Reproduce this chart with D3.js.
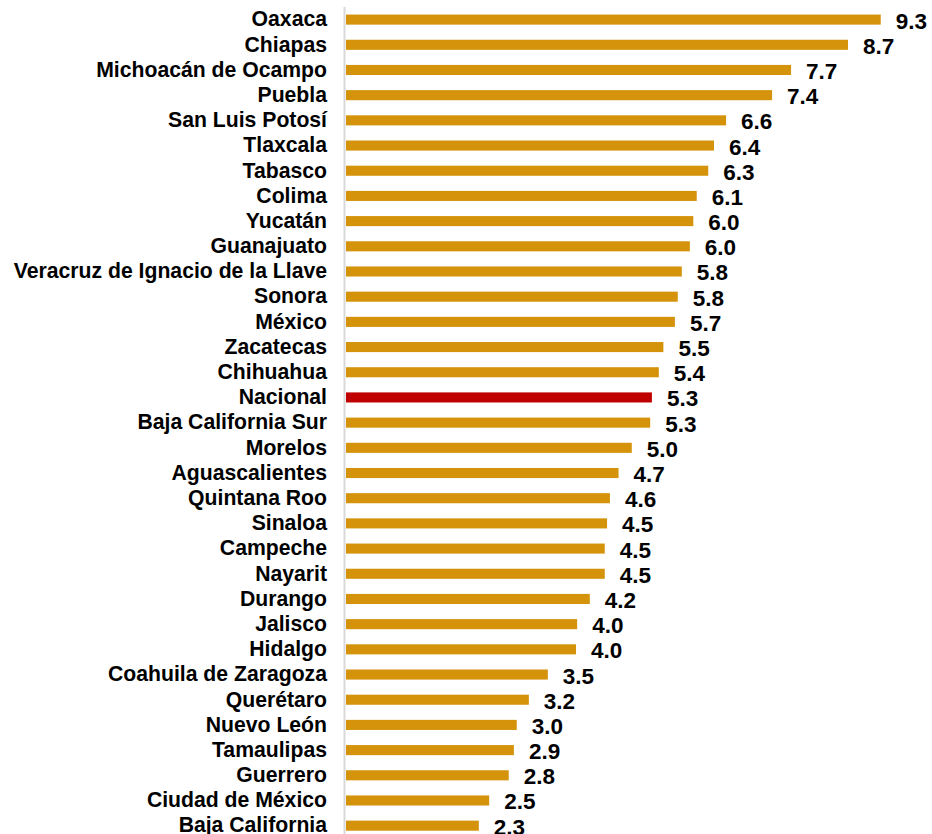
<!DOCTYPE html>
<html>
<head>
<meta charset="utf-8">
<script src="https://cdn.jsdelivr.net/npm/d3@7"></script>
<style>
  body { margin: 0; background: #fff; }
  text { font-family: Arial, "Liberation Sans", sans-serif; font-weight: bold; fill: #000; }
</style>
</head>
<body>
<div id="chart"></div>
<script>
var width = 932;
var height = 834;

var states = ["Oaxaca", "Chiapas", "Michoacán de Ocampo", "Puebla", "San Luis Potosí",
    "Tlaxcala", "Tabasco", "Colima", "Yucatán", "Guanajuato",
    "Veracruz de Ignacio de la Llave", "Sonora", "México", "Zacatecas", "Chihuahua",
    "Nacional", "Baja California Sur", "Morelos", "Aguascalientes", "Quintana Roo",
    "Sinaloa", "Campeche", "Nayarit", "Durango", "Jalisco",
    "Hidalgo", "Coahuila de Zaragoza", "Querétaro", "Nuevo León", "Tamaulipas",
    "Guerrero", "Ciudad de México", "Baja California"];

// values (labels show one decimal)
var values = [9.30, 8.73, 7.74, 7.41, 6.61,
    6.40, 6.30, 6.10, 6.04, 5.98,
    5.84, 5.77, 5.72, 5.52, 5.44,
    5.32, 5.29, 4.97, 4.74, 4.59,
    4.54, 4.50, 4.50, 4.24, 4.02,
    4.00, 3.51, 3.18, 2.97, 2.92,
    2.83, 2.49, 2.31];

var highlight = "Nacional";

var data = states.map(function(s, i) {
    return {name: s, value: values[i]};
});

var x0 = 346;

var svg = d3.select("#chart")
    .append("svg")
    .attr("width", width)
    .attr("height", height);

var x = d3.scaleLinear()
    .domain([0, 10])
    .range([x0, x0 + 575]);

var y = d3.scaleBand()
    .domain(states)
    .range([7, 7 + 33 * 25.19])
    .paddingInner(0.6)
    .paddingOuter(0.3);

var fmt = d3.format(".1f");

svg.selectAll("rect.bar")
    .data(data)
    .enter()
    .append("rect")
    .attr("class", "bar")
    .attr("x", x(0))
    .attr("y", function(d) { return y(d.name); })
    .attr("width", function(d) { return x(d.value) - x(0); })
    .attr("height", y.bandwidth())
    .attr("fill", function(d) {
        return d.name === highlight ? "#C00000" : "#D4930A";
    });

// vertical axis line
svg.append("line")
    .attr("x1", x0 - 1.5)
    .attr("x2", x0 - 1.5)
    .attr("y1", 7)
    .attr("y2", height)
    .attr("stroke", "#d9d9d9")
    .attr("stroke-width", 2);

var yAxis = svg.append("g")
    .attr("transform", "translate(" + (x0 - 1) + ",0)")
    .call(d3.axisLeft(y).tickSize(0).tickPadding(18));

yAxis.select(".domain").remove();
yAxis.selectAll("text")
    .style("font-family", "Arial, 'Liberation Sans', sans-serif")
    .style("font-weight", "bold")
    .style("font-size", "21.2px")
    .attr("fill", "#000");

svg.selectAll("text.val")
    .data(data)
    .enter()
    .append("text")
    .attr("class", "val")
    .attr("x", function(d) { return x(d.value) + 15; })
    .attr("y", function(d) { return y(d.name) + y.bandwidth() / 2; })
    .attr("dy", "0.4em")
    .style("font-size", "22.5px")
    .text(function(d) { return fmt(d.value); });
</script>
</body>
</html>
